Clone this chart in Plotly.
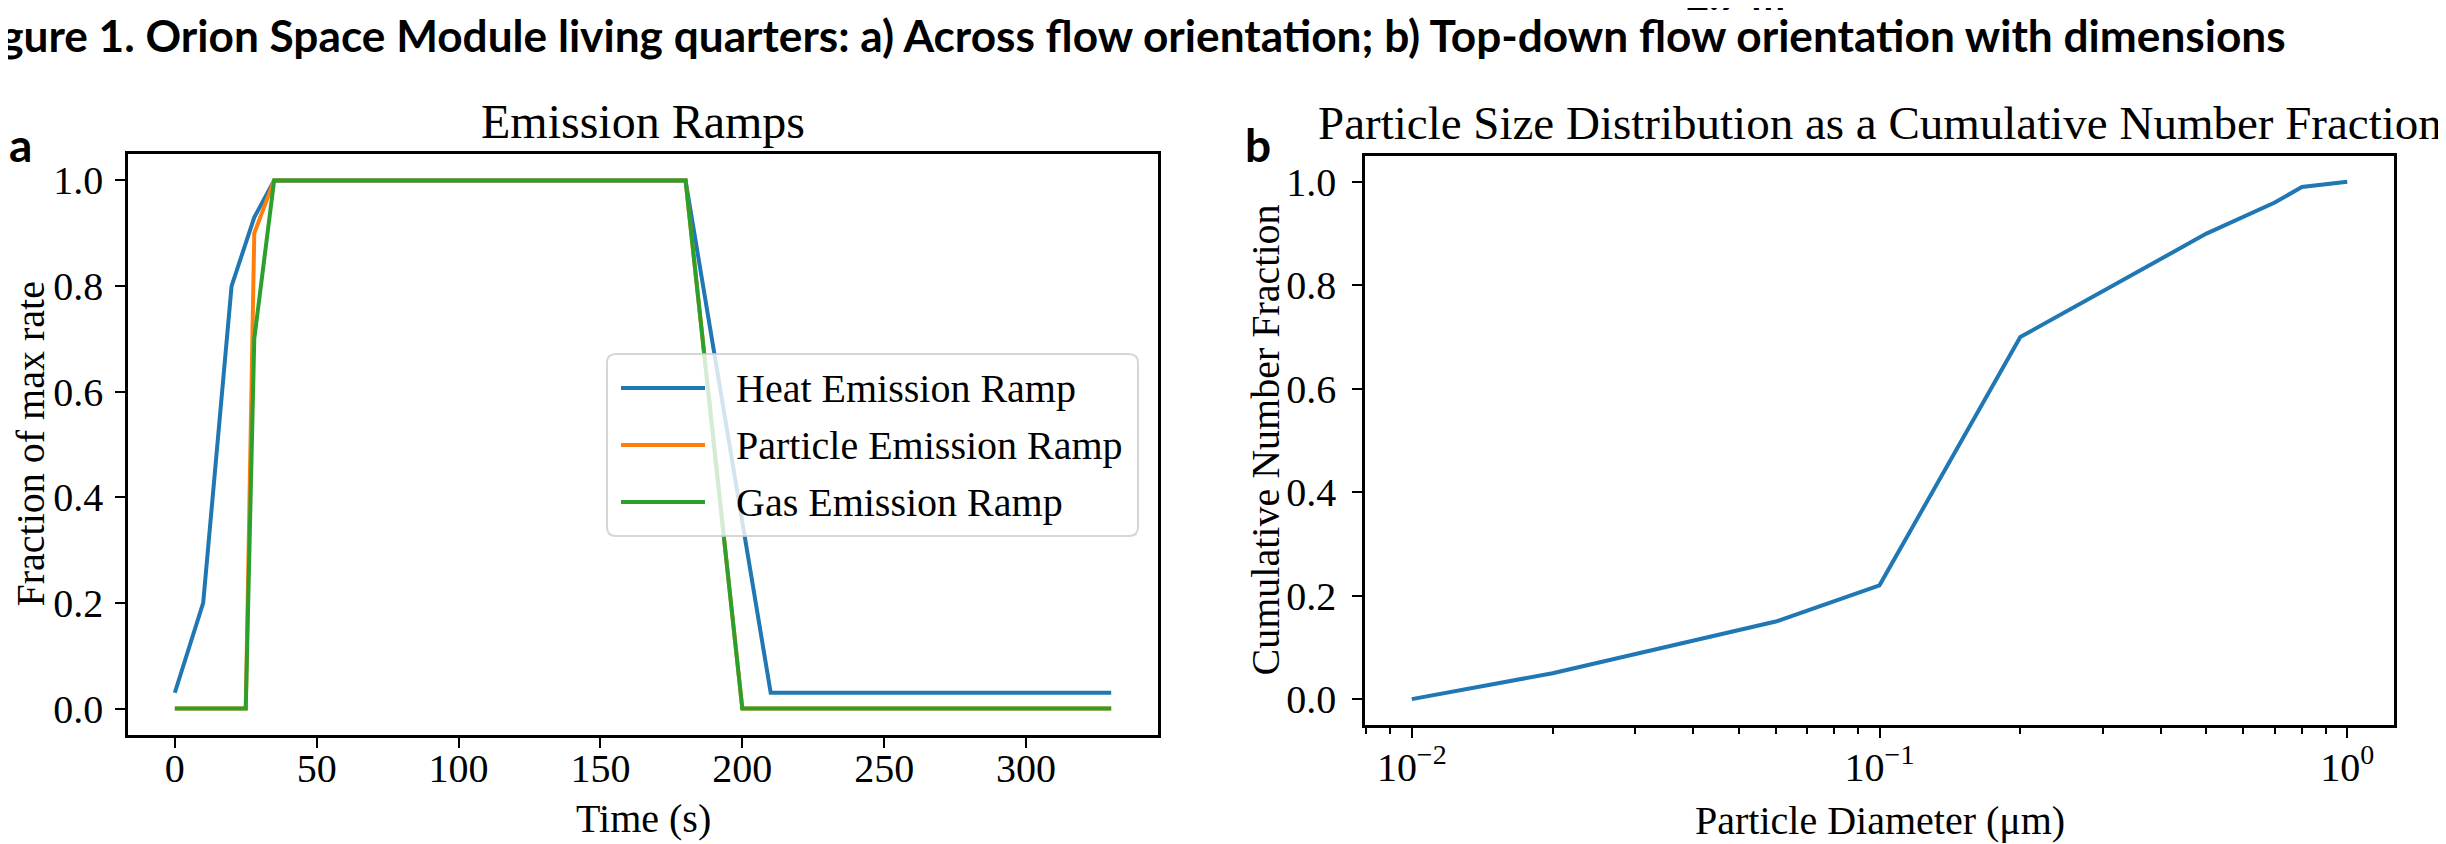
import plotly.graph_objects as go

W, H = 2446, 844

# ---------------- data ----------------
heat_time = [0, 10, 20, 28, 35, 180, 210, 330]
heat_frac = [0.03, 0.2, 0.8, 0.93, 1.0, 1.0, 0.03, 0.03]

particle_time = [0, 25, 28, 35, 180, 200, 330]
particle_frac = [0.0, 0.0, 0.9, 1.0, 1.0, 0.0, 0.0]

gas_time = [0, 25, 28, 35, 180, 200, 330]
gas_frac = [0.0, 0.0, 0.7, 1.0, 1.0, 0.0, 0.0]

diameter_um = [0.01, 0.02, 0.06, 0.1, 0.2, 0.5, 0.7, 0.8, 1.0]
cum_fraction = [0.0, 0.05, 0.15, 0.22, 0.70, 0.90, 0.96, 0.99, 1.0]

series_names = ["Heat Emission Ramp", "Particle Emission Ramp", "Gas Emission Ramp"]
time_ticks = [0, 50, 100, 150, 200, 250, 300]
frac_ticks = [0.0, 0.2, 0.4, 0.6, 0.8, 1.0]
log_major = [0.01, 0.1, 1]
log_major_text = ["10<sup>\u22122</sup>", "10<sup>\u22121</sup>", "10<sup>0</sup>"]
log_minor = [0.008, 0.009] + [m * 0.01 for m in range(2, 10)] + [m * 0.1 for m in range(2, 10)]

C_BLUE, C_ORANGE, C_GREEN = "#1f77b4", "#ff7f0e", "#2ca02c"
SERIF = "Liberation Serif, Times New Roman, serif"
SANS_B = "Lato, Open Sans, sans-serif"

TICK_FS = 40
LABEL_FS = 40
LW = 4

# ---------------- geometry (pixels) ----------------
def px(x):
    return x / W

def py(y):
    return 1 - y / H

ax_a = dict(l=120, r=1150, t=146, b=727)
ax_b = dict(l=1357, r=2386, t=148, b=717)

fig = go.Figure()
colors = [C_BLUE, C_ORANGE, C_GREEN]
for t, f, nm, c in zip([heat_time, particle_time, gas_time], [heat_frac, particle_frac, gas_frac],
                       series_names, colors):
    fig.add_trace(go.Scatter(x=t, y=f, mode="lines", name=nm, showlegend=False,
                             line=dict(color=c, width=LW), xaxis="x", yaxis="y"))
fig.add_trace(go.Scatter(x=diameter_um, y=cum_fraction, mode="lines", showlegend=False,
                         line=dict(color=C_BLUE, width=LW), xaxis="x2", yaxis="y2"))

axis_common = dict(showline=True, linecolor="black", linewidth=2.5, mirror=True,
                   ticks="outside", ticklen=10, tickwidth=2, tickcolor="black",
                   showgrid=False, zeroline=False, automargin=False,
                   tickfont=dict(family=SERIF, size=TICK_FS, color="black"))

fig.update_layout(
    width=W, height=H,
    margin=dict(l=0, r=0, t=0, b=0, autoexpand=False),
    paper_bgcolor="white", plot_bgcolor="white",
    showlegend=False,
    xaxis=dict(domain=[px(ax_a["l"]), px(ax_a["r"])], range=[-16.5, 346.5],
               tickmode="array", tickvals=time_ticks, anchor="y", ticklabelstandoff=-14,
               **axis_common),
    yaxis=dict(domain=[py(ax_a["b"]), py(ax_a["t"])], range=[-0.05, 1.05],
               tickmode="array", tickvals=frac_ticks, tickformat=".1f", anchor="x",
               ticklabelstandoff=4, **axis_common),
    xaxis2=dict(domain=[px(ax_b["l"]), px(ax_b["r"])], type="log", range=[-2.1, 0.1],
                tickmode="array", tickvals=log_major, ticktext=log_major_text, anchor="y2",
                ticklabelstandoff=-5,
                minor=dict(ticks="outside", ticklen=6, tickwidth=1.5, tickcolor="black",
                           tickmode="array", tickvals=log_minor),
                **axis_common),
    yaxis2=dict(domain=[py(ax_b["b"]), py(ax_b["t"])], range=[-0.05, 1.05],
                tickmode="array", tickvals=frac_ticks, tickformat=".1f", anchor="x2",
                ticklabelstandoff=8, **axis_common),
)

shapes = []
ann = []

# ---- legend (matplotlib style, center right, semi-transparent) ----
L_x0, L_x1, L_y0, L_y1, R = 599, 1130, 346, 528, 9
path = (f"M{px(L_x0 + R)},{py(L_y0)} L{px(L_x1 - R)},{py(L_y0)} "
        f"Q{px(L_x1)},{py(L_y0)} {px(L_x1)},{py(L_y0 + R)} "
        f"L{px(L_x1)},{py(L_y1 - R)} Q{px(L_x1)},{py(L_y1)} {px(L_x1 - R)},{py(L_y1)} "
        f"L{px(L_x0 + R)},{py(L_y1)} Q{px(L_x0)},{py(L_y1)} {px(L_x0)},{py(L_y1 - R)} "
        f"L{px(L_x0)},{py(L_y0 + R)} Q{px(L_x0)},{py(L_y0)} {px(L_x0 + R)},{py(L_y0)} Z")
shapes.append(dict(type="path", path=path, xref="paper", yref="paper", layer="above",
                   fillcolor="rgba(255,255,255,0.8)", line=dict(color="rgba(204,204,204,0.8)", width=2)))
row_y = [380, 437, 494]
for ry, nm, c in zip(row_y, series_names, colors):
    shapes.append(dict(type="line", xref="paper", yref="paper", layer="above",
                       x0=px(613), x1=px(697), y0=py(ry), y1=py(ry),
                       line=dict(color=c, width=LW)))
    ann.append(dict(text=nm, x=px(726), y=py(ry), xanchor="left", yanchor="middle",
                    xref="paper", yref="paper", showarrow=False,
                    font=dict(family=SERIF, size=40, color="black")))

# figure header (cut off on the left in the reference)
ann.append(dict(text="<b>Figure 1. Orion Space Module living quarters: a) Across flow orientation; b) Top-down flow orientation with dimensions</b>",
                x=px(2280), y=py(26), xanchor="right", yanchor="middle", xref="paper", yref="paper",
                showarrow=False, font=dict(family=SANS_B, size=44.2, color="black")))
ann.append(dict(text="<b>2.7 m</b>", x=px(1727), y=py(4), xanchor="center", yanchor="bottom",
                xref="paper", yref="paper", yshift=-9,
                showarrow=False, font=dict(family=SANS_B, size=40, color="black")))
# panel letters
ann.append(dict(text="<b>a</b>", x=px(-1), y=py(136), xanchor="left", yanchor="middle",
                xref="paper", yref="paper", showarrow=False,
                font=dict(family=SANS_B, size=46, color="black")))
ann.append(dict(text="<b>b</b>", x=px(1235), y=py(136), xanchor="left", yanchor="middle",
                xref="paper", yref="paper", showarrow=False,
                font=dict(family=SANS_B, size=46, color="black")))
# titles
ann.append(dict(text="Emission Ramps", x=px((ax_a["l"] + ax_a["r"]) / 2), y=py(113.5),
                xanchor="center", yanchor="middle", xref="paper", yref="paper", showarrow=False,
                font=dict(family=SERIF, size=48, color="black")))
ann.append(dict(text="Particle Size Distribution as a Cumulative Number Fraction",
                x=px(1872), y=py(115),
                xanchor="center", yanchor="middle", xref="paper", yref="paper", showarrow=False,
                font=dict(family=SERIF, size=47, color="black")))
# axis labels
ann.append(dict(text="Time (s)", x=px((ax_a["l"] + ax_a["r"]) / 2), y=py(810),
                xanchor="center", yanchor="middle", xref="paper", yref="paper", showarrow=False,
                font=dict(family=SERIF, size=LABEL_FS, color="black")))
ann.append(dict(text="Particle Diameter (\u03bcm)", x=px((ax_b["l"] + ax_b["r"]) / 2), y=py(812),
                xanchor="center", yanchor="middle", xref="paper", yref="paper", showarrow=False,
                font=dict(family=SERIF, size=LABEL_FS, color="black")))
ann.append(dict(text="Fraction of max rate", x=px(22), y=py((ax_a["t"] + ax_a["b"]) / 2),
                xanchor="center", yanchor="middle", xref="paper", yref="paper", showarrow=False,
                textangle=-90, font=dict(family=SERIF, size=LABEL_FS, color="black")))
ann.append(dict(text="Cumulative Number Fraction", x=px(1257), y=py((ax_b["t"] + ax_b["b"]) / 2),
                xanchor="center", yanchor="middle", xref="paper", yref="paper", showarrow=False,
                textangle=-90, font=dict(family=SERIF, size=LABEL_FS, color="black")))
fig.update_layout(annotations=ann, shapes=shapes)

fig.write_html("out.html")
